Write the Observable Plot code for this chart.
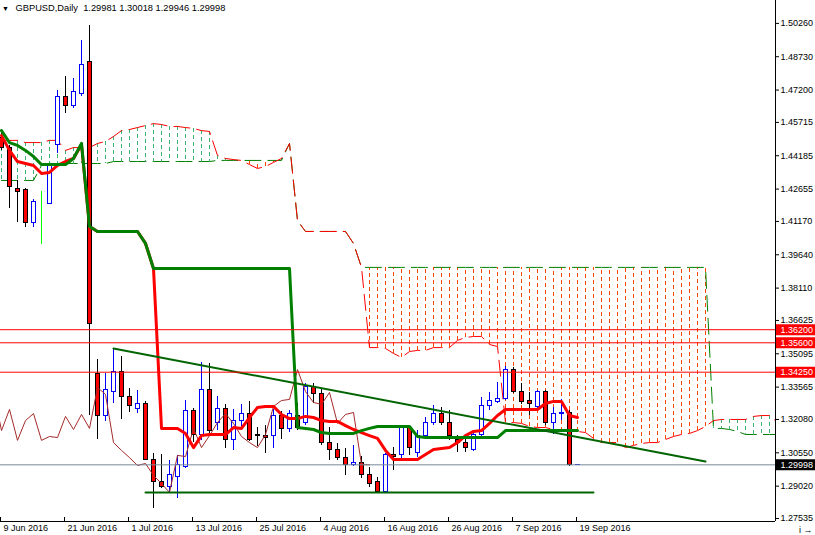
<!DOCTYPE html>
<html><head><meta charset="utf-8">
<script src="https://cdn.jsdelivr.net/npm/d3@7"></script>
<script src="https://cdn.jsdelivr.net/npm/@observablehq/plot@0.6"></script>
<style>
html,body{margin:0;padding:0;background:#fff;}
#chart{width:815px;height:535px;overflow:hidden;}
</style></head><body><div id="chart"></div>
<script>
// ---- Data (daily bars, index 0 = 9 Jun 2016) ----
const symbol = "GBPUSD";
const timeframe = "Daily";
const dateLabels = ["9 Jun 2016","21 Jun 2016","1 Jul 2016","13 Jul 2016","25 Jul 2016","4 Aug 2016","16 Aug 2016","26 Aug 2016","7 Sep 2016","19 Sep 2016"];
const dateTickIdx = [0,8,16,24,32,40,48,56,64,72];
const priceTicks = [1.50260,1.48730,1.47200,1.45715,1.44185,1.42655,1.41170,1.39640,1.38110,1.36625,1.35095,1.33565,1.32080,1.30550,1.29020,1.27535];

const open = [1.4502,1.4452,1.4268,1.4259,1.4108,1.4204,1.4199,1.4466,1.4686,1.4649,1.4704,1.4851,1.3419,1.3222,1.3336,1.3424,1.3309,1.3254,1.3281,1.3024,1.2923,1.2900,1.2942,1.2988,1.3245,1.3139,1.3341,1.3190,1.3254,1.3112,1.3203,1.3231,1.3139,1.3134,1.3130,1.3222,1.3162,1.3226,1.3190,1.3355,1.3327,1.3102,1.3066,1.3033,1.2997,1.3006,1.2955,1.2919,1.2873,1.3047,1.3043,1.3167,1.3052,1.3134,1.3194,1.3235,1.3190,1.3112,1.3102,1.3070,1.3139,1.3268,1.3286,1.3304,1.3437,1.3336,1.3291,1.3263,1.3332,1.3190,1.3231,1.3240,1.29981];
const high = [1.4521,1.4466,1.4305,1.4268,1.4218,1.4254,1.4383,1.4718,1.4782,1.4773,1.4948,1.5016,1.3483,1.3419,1.3534,1.3497,1.3350,1.3341,1.3291,1.3052,1.3047,1.3020,1.3043,1.3295,1.3258,1.3470,1.3465,1.3313,1.3277,1.3254,1.3277,1.3291,1.3171,1.3180,1.3254,1.3245,1.3249,1.3281,1.3373,1.3373,1.3350,1.3171,1.3098,1.3075,1.3089,1.3038,1.2988,1.2942,1.3052,1.3079,1.3176,1.3176,1.3157,1.3217,1.3272,1.3263,1.3249,1.3134,1.3121,1.3157,1.3309,1.3332,1.3378,1.3451,1.3447,1.3373,1.3332,1.3341,1.3341,1.3263,1.3300,1.3249,1.30018];
const low = [1.4443,1.4176,1.4112,1.4089,1.4089,1.4011,1.4195,1.4429,1.4612,1.4635,1.4690,1.3226,1.3116,1.3199,1.3281,1.3208,1.3240,1.3235,1.3020,1.2799,1.2891,1.2873,1.2845,1.2983,1.3102,1.3112,1.3130,1.3157,1.3075,1.3066,1.3157,1.3107,1.3084,1.3052,1.3075,1.3116,1.3148,1.3157,1.3180,1.3281,1.3089,1.3020,1.3020,1.2951,1.2992,1.2937,1.2896,1.2868,1.2868,1.2974,1.3029,1.3043,1.3033,1.3125,1.3180,1.3180,1.3112,1.3056,1.3056,1.3061,1.3130,1.3249,1.3281,1.3295,1.3327,1.3277,1.3226,1.3249,1.3180,1.3139,1.3203,1.2992,1.29946];
const close = [1.4452,1.4273,1.4254,1.4108,1.4204,1.4204,1.4378,1.4686,1.4649,1.4709,1.4837,1.3644,1.3222,1.3341,1.3424,1.3309,1.3272,1.3281,1.3024,1.2923,1.2900,1.2955,1.2997,1.3245,1.3139,1.3341,1.3157,1.3254,1.3112,1.3203,1.3235,1.3112,1.3130,1.3125,1.3222,1.3162,1.3231,1.3167,1.3355,1.3323,1.3102,1.3066,1.3033,1.2997,1.3006,1.2951,1.2914,1.2873,1.3043,1.3038,1.3167,1.3079,1.3134,1.3194,1.3235,1.3190,1.3130,1.3102,1.3079,1.3139,1.3268,1.3295,1.3300,1.3437,1.3336,1.3286,1.3277,1.3332,1.3190,1.3231,1.3240,1.3001,1.29998];

// Ichimoku lines
const tenkan = [1.4511,1.4443,1.4392,1.4383,1.4374,1.4337,1.4342,1.4374,1.4392,1.4406,1.4470,1.4094,1.4071,1.4071,1.4071,1.4071,1.4071,1.4071,1.4016,1.3901,1.3167,1.3167,1.3167,1.3144,1.3079,1.3134,1.3139,1.3139,1.3139,1.3171,1.3167,1.3217,1.3263,1.3268,1.3268,1.3231,1.3212,1.3212,1.3222,1.3217,1.3203,1.3199,1.3199,1.3180,1.3162,1.3148,1.3134,1.3121,1.3066,1.3024,1.3024,1.3024,1.3024,1.3047,1.3070,1.3075,1.3079,1.3102,1.3134,1.3153,1.3157,1.3190,1.3226,1.3254,1.3254,1.3254,1.3254,1.3254,1.3281,1.3291,1.3291,1.3226,1.3217];
const kijun = [1.4534,1.4479,1.4466,1.4443,1.4415,1.4378,1.4378,1.4378,1.4378,1.4406,1.4475,1.4094,1.4071,1.4071,1.4071,1.4071,1.4071,1.4071,1.4016,1.3901,1.3901,1.3901,1.3901,1.3901,1.3901,1.3901,1.3901,1.3901,1.3901,1.3901,1.3901,1.3901,1.3901,1.3901,1.3901,1.3901,1.3901,1.3171,1.3167,1.3162,1.3148,1.3144,1.3144,1.3144,1.3144,1.3157,1.3167,1.3176,1.3176,1.3176,1.3176,1.3176,1.3130,1.3125,1.3125,1.3125,1.3125,1.3125,1.3125,1.3125,1.3125,1.3125,1.3125,1.3157,1.3157,1.3157,1.3157,1.3157,1.3157,1.3157,1.3157,1.3157,1.3157];
const senkouA = [1.4489,1.4489,1.4489,1.4479,1.4479,1.4479,1.4489,1.4489,1.4443,1.4456,1.4456,1.4456,1.4475,1.4484,1.4507,1.4534,1.4539,1.4548,1.4557,1.4566,1.4562,1.4553,1.4553,1.4548,1.4544,1.4534,1.4530,1.4420,1.4406,1.4401,1.4397,1.4378,1.4360,1.4369,1.4388,1.4406,1.4475,1.4121,1.4071,1.4071,1.4071,1.4071,1.4071,1.4071,1.4016,1.3906,1.3538,1.3538,1.3534,1.3511,1.3493,1.3520,1.3525,1.3525,1.3538,1.3538,1.3538,1.3571,1.3584,1.3589,1.3589,1.3552,1.3543,1.3194,1.3194,1.3190,1.3176,1.3171,1.3171,1.3162,1.3153,1.3153,1.3153,1.3148,1.3121,1.3102,1.3102,1.3102,1.3079,1.3089,1.3098,1.3102,1.3102,1.3116,1.3130,1.3139,1.3144,1.3157,1.3176,1.3203,1.3208,1.3208,1.3208,1.3208,1.3222,1.3226,1.3226,1.3194];
const senkouB = [1.4305,1.4305,1.4305,1.4305,1.4305,1.4374,1.4383,1.4383,1.4383,1.4383,1.4383,1.4383,1.4383,1.4383,1.4392,1.4392,1.4392,1.4392,1.4392,1.4392,1.4392,1.4392,1.4392,1.4392,1.4392,1.4392,1.4392,1.4397,1.4397,1.4397,1.4397,1.4397,1.4397,1.4397,1.4397,1.4397,1.4475,1.4121,1.4071,1.4071,1.4071,1.4071,1.4071,1.4071,1.4016,1.3906,1.3906,1.3906,1.3906,1.3906,1.3906,1.3906,1.3906,1.3906,1.3906,1.3906,1.3906,1.3906,1.3906,1.3906,1.3906,1.3906,1.3906,1.3906,1.3906,1.3906,1.3906,1.3906,1.3906,1.3906,1.3906,1.3906,1.3906,1.3906,1.3906,1.3906,1.3906,1.3906,1.3906,1.3906,1.3906,1.3906,1.3906,1.3906,1.3906,1.3906,1.3906,1.3906,1.3906,1.3167,1.3167,1.3162,1.3153,1.3139,1.3139,1.3139,1.3139,1.3139];
const chikouShift = 26;

// Drawn objects
const levels = [1.3620, 1.3560, 1.3425];
const lastPrice = 1.29998;
const trendLine = [{i: 14, p: 1.3534}, {i: 88, p: 1.3015}];
const supportLine = [{i: 18, p: 1.2873}, {i: 74, p: 1.2873}];

// ---- Layout ----
const xDomain = [-0.125, 96.75];
const yDomain = [1.27397, 1.51311];
const FONT = "Liberation Sans, Arial, sans-serif";

const candles = close.map((c, i) => ({i, o: open[i], h: high[i], l: low[i], c}));
const bull = candles.filter(d => d.c > d.o);
const bear = candles.filter(d => d.c < d.o);
const doji = candles.filter(d => d.c === d.o);
const cloud = senkouA.map((a, i) => ({i, a, b: senkouB[i]}));
const cloudUp = cloud.filter(d => d.a > d.b);
const cloudDown = cloud.filter(d => d.a < d.b);
const chikou = close.map((c, i) => ({i: i - chikouShift, c}));
const series = arr => arr.map((v, i) => ({i, v}));
const last = candles[candles.length - 1];
const header = `${symbol},${timeframe}\u00a0\u00a0${[last.o, last.h, last.l, last.c].map(v => v.toFixed(5)).join(" ")}`;

const wicks = (data, color) => Plot.ruleX(data, {x: "i", y1: "l", y2: "h", stroke: color, strokeWidth: 1, shapeRendering: "crispEdges"});
const bodies = (data, fill, stroke) => Plot.rect(data, {x1: d => d.i - 0.25, x2: d => d.i + 0.25,
  y1: d => Math.min(d.o, d.c), y2: d => Math.max(d.o, d.c),
  fill, stroke, strokeWidth: 1, dx: 0.5, shapeRendering: "crispEdges"});
const hatch = (data, color) => Plot.ruleX(data, {x: "i", y1: "a", y2: "b", stroke: color, strokeWidth: 1,
  strokeDasharray: "4,3", clip: true, shapeRendering: "crispEdges"});

const chart = Plot.plot({
  width: 815, height: 535,
  marginLeft: 0, marginRight: 40, marginTop: 0, marginBottom: 14,
  x: {type: "linear", domain: xDomain},
  y: {type: "linear", domain: yDomain},
  style: {fontFamily: FONT, fontSize: "9px", background: "#fff", color: "#000"},
  marks: [
    // Kumo hatching and Senkou spans
    hatch(cloudUp, "#3cb371"),
    hatch(cloudDown, "#ff4500"),
    Plot.line(cloud, {x: "i", y: "b", stroke: "#008000", strokeWidth: 1, strokeDasharray: "16,7", clip: true}),
    Plot.line(cloud, {x: "i", y: "a", stroke: "#ff0000", strokeWidth: 1, strokeDasharray: "16,7", clip: true}),
    // Candles
    wicks(bull, "#0000ff"), wicks(bear, "#000000"), wicks(doji, "#00ff00"),
    bodies(bull, "#ffffff", "#0000ff"), bodies(bear, "#ff0000", "#000000"), bodies(doji, "#00ff00", "#00ff00"),
    // Chikou, Tenkan, Kijun
    Plot.line(chikou, {x: "i", y: "c", stroke: "#a52a2a", strokeWidth: 1, clip: true}),
    Plot.line(series(tenkan), {x: "i", y: "v", stroke: "#ff0000", strokeWidth: 3}),
    Plot.line(series(kijun), {x: "i", y: "v", stroke: "#008000", strokeWidth: 3}),
    // Trend objects
    Plot.line(trendLine, {x: "i", y: "p", stroke: "#006400", strokeWidth: 2}),
    Plot.line(supportLine, {x: "i", y: "p", stroke: "#006400", strokeWidth: 2}),
    Plot.ruleY(levels, {stroke: "#ff0000", strokeWidth: 1}),
    Plot.ruleY([lastPrice], {stroke: "#778899", strokeWidth: 1}),
    // Frame
    Plot.ruleX([xDomain[1]], {stroke: "#000"}),
    Plot.ruleY([yDomain[0]], {stroke: "#000"}),
    // Axes
    Plot.axisY({anchor: "right", ticks: priceTicks, tickSize: 3, tickPadding: 2,
      tickFormat: d => d.toFixed(5), fontSize: 9, fontFamily: FONT}),
    Plot.tickX(dateTickIdx, {x: d => d - 0.125, stroke: "#000", insetTop: 517}),
    Plot.axisX({ticks: dateTickIdx, tickSize: 0, tickPadding: 3, textAnchor: "start", dx: 2,
      tickFormat: i => dateLabels[dateTickIdx.indexOf(i)], fontSize: 9, fontFamily: FONT}),
    // Price label boxes
    Plot.ruleY(levels, {x1: xDomain[1] + 0.125, x2: xDomain[1] + 5.5, stroke: "#ff0000", strokeWidth: 11}),
    Plot.text(levels, {y: d => d, text: d => d.toFixed(5), frameAnchor: "right", dx: 5, textAnchor: "start", fill: "#ffffff", fontSize: 9}),
    Plot.ruleY([lastPrice], {x1: xDomain[1] + 0.125, x2: xDomain[1] + 5.5, stroke: "#000000", strokeWidth: 11}),
    Plot.text([lastPrice], {y: d => d, text: d => d.toFixed(5), frameAnchor: "right", dx: 5, textAnchor: "start", fill: "#ffffff", fontSize: 9}),
    // Header
    Plot.text(["\u25BC"], {frameAnchor: "top-left", dx: 5, dy: 8, textAnchor: "middle", lineAnchor: "middle", fontSize: 7, fill: "#000"}),
    Plot.text([header], {frameAnchor: "top-left", dx: 15, dy: 8, textAnchor: "start", lineAnchor: "middle", fontSize: 9.3, fill: "#000"})
  ]
});
document.getElementById("chart").appendChild(chart);
</script>
</body></html>
